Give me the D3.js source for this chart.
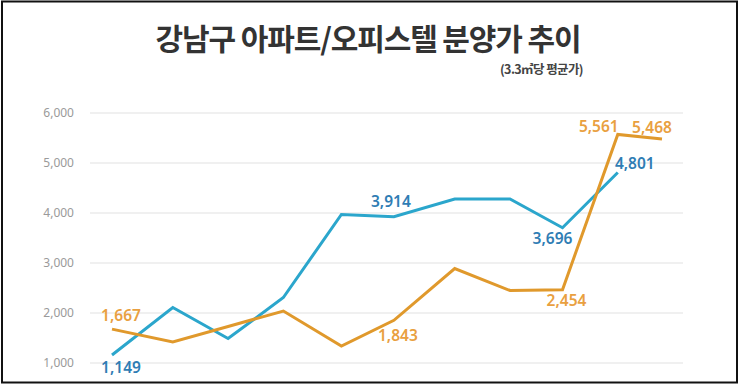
<!DOCTYPE html>
<html>
<head>
<meta charset="utf-8">
<script src="https://cdn.jsdelivr.net/npm/d3@7"></script>
<style>
  body { margin: 0; background: #fff; }
  svg { display: block; font-family: "Noto Sans CJK KR", "Noto Sans", sans-serif; }
</style>
</head>
<body>
<div class="line-chart"></div>
<script>
// x position of each period (spacing, last gap is shorter)
const periods = [0, 1.1, 2.1, 3.1, 4.15, 5.1, 6.2, 7.2, 8.15, 9.15, 9.95];
const apartment = [1149, 2100, 1480, 2300, 3960, 3914, 4270, 4270, 3696, 4801];
const officetel = [1667, 1410, 1720, 2030, 1330, 1843, 2880, 2440, 2454, 5561, 5468];
const yTicks = [1000, 2000, 3000, 4000, 5000, 6000];
const apartmentLabeled = [0, 5, 8, 9];
const officetelLabeled = [0, 5, 8, 9, 10];

const width = 740;
const height = 388;

const svg = d3
  .select('.line-chart')
  .append('svg')
  .attr('width', width)
  .attr('height', height);

// frame
svg
  .append('rect')
  .attr('x', 2)
  .attr('y', 1.5)
  .attr('width', 735)
  .attr('height', 381)
  .attr('fill', 'none')
  .attr('stroke', '#111')
  .attr('stroke-width', 2);

svg
  .append('text')
  .attr('x', 368)
  .attr('y', 50)
  .attr('text-anchor', 'middle')
  .style('font-size', '30px')
  .style('font-weight', 700)
  .style('letter-spacing', '-1.1px')
  .style('fill', '#333')
  .text('강남구 아파트/오피스텔 분양가 추이');

svg
  .append('text')
  .attr('x', 583)
  .attr('y', 74)
  .attr('text-anchor', 'end')
  .style('font-size', '12.5px')
  .style('font-weight', 700)
  .style('letter-spacing', '-0.6px')
  .style('fill', '#444')
  .text('(3.3㎡당 평균가)');

const x = d3.scaleLinear().domain([0, 9.95]).range([112, 662]);
const y = d3.scaleLinear().domain([1000, 6000]).range([362.5, 112.5]);

const yAxis = svg
  .append('g')
  .attr('transform', 'translate(90,0)')
  .call(
    d3
      .axisLeft(y)
      .tickValues(yTicks)
      .tickSize(-593)
      .tickPadding(16)
      .tickFormat(d3.format(','))
  );
yAxis.select('.domain').remove();
yAxis.selectAll('line').attr('stroke', '#e2e2e2').attr('stroke-width', 1.2);
yAxis
  .selectAll('text')
  .style('font-family', '"Noto Sans", sans-serif')
  .style('font-size', '12px')
  .style('fill', '#9a9a9a');

const line = d3
  .line()
  .x((d, i) => x(periods[i]))
  .y((d) => y(d));

const series = [
  { values: apartment, stroke: '#2ba6cc', labelColor: '#2f7db4', labeled: apartmentLabeled },
  { values: officetel, stroke: '#e0992c', labelColor: '#e9a040', labeled: officetelLabeled },
];

series.forEach((s) => {
  svg
    .append('path')
    .datum(s.values)
    .attr('fill', 'none')
    .attr('stroke', s.stroke)
    .attr('stroke-width', 3)
    .attr('stroke-linejoin', 'miter')
    .attr('d', line);
});

// label placement relative to the point (dx, dy)
const offsets = {
  apartment: { 0: [9, 12], 5: [-3, -16], 8: [-10, 10], 9: [17, -9] },
  officetel: { 0: [9, -14], 5: [4, 15], 8: [4, 10], 9: [-19, -8], 10: [-10, -12] },
};

[
  ['apartment', series[0]],
  ['officetel', series[1]],
].forEach(([key, s]) => {
  svg
    .selectAll('.lbl-' + key)
    .data(s.labeled)
    .join('text')
    .attr('class', 'lbl-' + key)
    .attr('x', (i) => x(periods[i]) + offsets[key][i][0])
    .attr('y', (i) => y(s.values[i]) + offsets[key][i][1])
    .attr('text-anchor', 'middle')
    .attr('dominant-baseline', 'central')
    .style('font-family', '"Noto Sans", sans-serif')
    .style('font-size', '15.5px')
    .style('font-weight', 600)
    .style('fill', s.labelColor)
    .text((i) => d3.format(',')(s.values[i]));
});
</script>
</body>
</html>
